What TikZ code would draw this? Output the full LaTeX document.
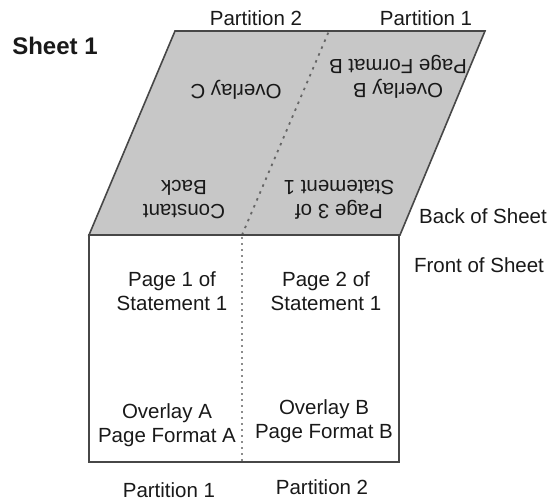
\documentclass[tikz,border=0pt]{standalone}
\usepackage{fontspec}
\setmainfont{Liberation Sans}
\begin{document}
\begin{tikzpicture}[x=1pt,y=-1pt,
  edge/.style={draw=black!72,line width=1.6pt},
  fold/.style={draw=black!45,line width=2.4pt,dash pattern=on 2pt off 4pt},
  backfold/.style={draw=black!60,line width=1.8pt,dash pattern=on 2.5pt off 5pt},
  lbl/.style={text=black!90,font=\fontsize{20.5}{24}\selectfont,align=center,inner sep=0pt},
  backlbl/.style={lbl,rotate=180}]
\useasboundingbox (0,0) rectangle (552,501);
% corners of the sheet
\coordinate (bl) at (89,235);
\coordinate (br) at (400,235);
\coordinate (tr) at (485,31);
\coordinate (tl) at (175,31);
\coordinate (fbr) at (399,462);
% partition folds
\coordinate (bf1) at (242,235);
\coordinate (bf2) at (329,31);
\coordinate (ff1) at (242,237);
\coordinate (ff2) at (242,462);
% back of sheet (tilted, shaded)
\filldraw[edge,fill=black!22] (bl) -- (br) -- (tr) -- (tl) -- cycle;
\draw[backfold] (bf1) -- (bf2);
% front of sheet
\draw[edge] (bl) rectangle (fbr);
\draw[fold] (ff1) -- (ff2);
% labels
\node[lbl,font=\fontsize{24}{28}\selectfont\bfseries] (sheet) at (55,46) {Sheet 1};
\node[lbl] (tp2) at (256,18) {Partition 2};
\node[lbl] (tp1) at (426,18) {Partition 1};
\node[lbl] (bos) at (483,216) {Back of Sheet};
\node[lbl] (fos) at (479,265) {Front of Sheet};
\node[backlbl] (ovb) at (398,77) {Overlay B\\Page Format B};
\node[backlbl] (ovc) at (236,90) {Overlay C};
\node[backlbl] (p3) at (339,200) {Page 3 of\\Statement 1};
\node[backlbl] (cb) at (184,200) {Constant\\Back};
\node[lbl] (p1) at (172,291) {Page 1 of\\Statement 1};
\node[lbl] (p2) at (326,291) {Page 2 of\\Statement 1};
\node[lbl] (ova) at (167,425) {Overlay A\\Page Format A};
\node[lbl] (ovbf) at (324,421) {Overlay B\\Page Format B};
\node[lbl] (bp1) at (169,490) {Partition 1};
\node[lbl] (bp2) at (322,487) {Partition 2};
\end{tikzpicture}
\end{document}
